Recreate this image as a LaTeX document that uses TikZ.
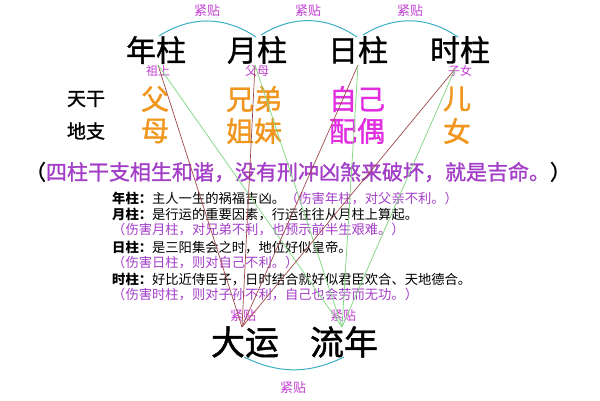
\documentclass[tikz,border=0pt]{standalone}
\usepackage{fontspec}
\setmainfont{Noto Sans CJK SC}
\newfontfamily\cjkheavy{Noto Sans CJK SC}[FakeBold=1.2]
\definecolor{ganorange}{HTML}{F0961E}
\definecolor{selfmagenta}{HTML}{E02EE0}
\definecolor{notepurple}{HTML}{A33EC7}
\definecolor{tagmagenta}{HTML}{C23ED2}
\definecolor{arccyan}{HTML}{3AAFC4}
\definecolor{yunred}{HTML}{A04848}
\definecolor{niangreen}{HTML}{88D888}
\begin{document}
\begin{tikzpicture}[x=1pt, y=-1pt,
  every node/.style={inner sep=0pt},
  pillar/.style={font=\cjkheavy\fontsize{30}{30}\selectfont},
  gan/.style={font=\cjkheavy\fontsize{28}{28}\selectfont, text=ganorange},
  rowlabel/.style={font=\cjkheavy\fontsize{19}{19}\selectfont},
  tag/.style={font=\fontsize{12}{12}\selectfont, text=tagmagenta},
  tietag/.style={font=\fontsize{13}{13}\selectfont, text=tagmagenta},
  desc/.style={anchor=west, font=\fontsize{13.3}{13.3}\selectfont},
  arc/.style={arccyan, line width=1pt},
  redline/.style={yunred, line width=0.7pt},
  greenline/.style={niangreen, line width=0.8pt}]
  \useasboundingbox (0,0) rectangle (600,400);

  % Define pillars
  \node[pillar] (nian) at (156,50) {年柱};
  \node[pillar] (yue) at (257,50) {月柱};
  \node[pillar] (ri) at (358,50) {日柱};
  \node[pillar] (shi) at (460,50) {时柱};

  % Small tags under pillars
  \node[tag] (zushang) at (158,71) {祖上};
  \node[tag] (fumu) at (257,71) {父母};
  \node[tag] (zinv) at (460,71) {子女};

  % Stems and branches
  \node[rowlabel] (tiangan) at (86,99) {天干};
  \node[rowlabel] (dizhi) at (86,131) {地支};
  \node[gan] (fu) at (155,99) {父};
  \node[gan] (xiongdi) at (254,99) {兄弟};
  \node[gan, text=selfmagenta] (ziji) at (357,99) {自己};
  \node[gan] (er) at (457,99) {儿};
  \node[gan] (mu) at (155,131) {母};
  \node[gan] (jiemei) at (254,131) {姐妹};
  \node[gan, text=selfmagenta] (peiou) at (357,131) {配偶};
  \node[gan] (nv) at (457,131) {女};

  % Summary line
  \node[font=\cjkheavy\fontsize{21}{21}\selectfont] (summary) at (298,172)
    {（\textcolor{notepurple}{四柱干支相生和谐，没有刑冲凶煞来破坏，就是吉命。}）};

  % Descriptions
  \node[desc] (d1) at (112,198) {\textbf{年柱：}主人一生的祸福吉凶。\textcolor{notepurple}{（伤害年柱，对父亲不利。）}};
  \node[desc] (d2) at (112,214) {\textbf{月柱：}是行运的重要因素，行运往往从月柱上算起。};
  \node[desc, text=notepurple] (d3) at (112,230) {（伤害月柱，对兄弟不利，也预示前半生艰难。）};
  \node[desc] (d4) at (112,247) {\textbf{日柱：}是三阳集会之时，地位好似皇帝。};
  \node[desc, text=notepurple] (d5) at (112,263) {（伤害日柱，则对自己不利。）};
  \node[desc] (d6) at (112,279) {\textbf{时柱：}好比近侍臣子，日时结合就好似君臣欢合、天地德合。};
  \node[desc, text=notepurple] (d7) at (112,295) {（伤害时柱，则对子孙不利，自己也会劳而无功。）};

  % Luck pillars
  \node[font=\cjkheavy\fontsize{34}{34}\selectfont] (dayun) at (245,342) {大运};
  \node[font=\cjkheavy\fontsize{34}{34}\selectfont] (liunian) at (344,342) {流年};

  % Close-fit arcs
  \coordinate (t1) at (159,36);
  \coordinate (t2) at (256,37);
  \coordinate (t3) at (261,35);
  \coordinate (t4) at (357,37);
  \coordinate (t5) at (363,35);
  \coordinate (t6) at (458,37);
  \draw[arc] (t1) to[bend left=33] (t2);
  \draw[arc] (t3) to[bend left=33] (t4);
  \draw[arc] (t5) to[bend left=33] (t6);
  \node[tietag] (tie1) at (207,11) {紧贴};
  \node[tietag] (tie2) at (308,11) {紧贴};
  \node[tietag] (tie3) at (410,11) {紧贴};

  \coordinate (b1) at (244,357);
  \coordinate (b2) at (344,357);
  \draw[arc] (b1) to[bend right=26] (b2);
  \node[tietag] (tie4) at (243,316) {紧贴};
  \node[tietag] (tie5) at (343,316) {紧贴};
  \node[tietag] (tie6) at (293,388) {紧贴};

  % Draw influence lines
  \coordinate (onian) at (158,65);
  \coordinate (oyue) at (255,65);
  \coordinate (ori) at (358,65);
  \coordinate (oshi) at (455,69);
  \coordinate (ydayun) at (242,327);
  \coordinate (yliunian) at (342,327);
  \foreach \o in {onian, oyue, ori, oshi} {
    \draw[redline] (\o) -- (ydayun);
    \draw[greenline] (\o) -- (yliunian);
  }
\end{tikzpicture}
\end{document}
